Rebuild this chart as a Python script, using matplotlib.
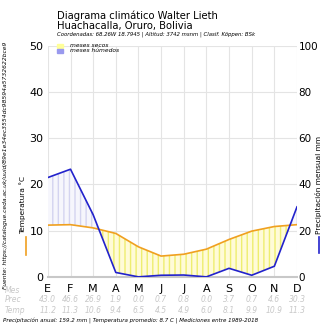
import matplotlib
matplotlib.use("Agg")
import matplotlib.pyplot as plt
import numpy as np
from matplotlib.lines import Line2D
from matplotlib.patches import Rectangle

# datos climáticos mensuales
meses = ["E", "F", "M", "A", "M", "J", "J", "A", "S", "O", "N", "D"]
prec = [43.0, 46.6, 26.9, 1.9, 0.0, 0.7, 0.8, 0.0, 3.7, 0.7, 4.6, 30.3]
temp = [11.2, 11.3, 10.6, 9.4, 6.5, 4.5, 4.9, 6.0, 8.1, 9.9, 10.9, 11.3]
temp_ticks = [0, 10, 20, 30, 40, 50]
prec_ticks = [0, 20, 40, 60, 80, 100]

titulo = "Diagrama climático Walter Lieth\nHuachacalla, Oruro, Bolivia"
subtitulo = "Coordenadas: 68.26W 18.7945 | Altitud: 3742 msnm | Clasif. Köppen: BSk"
fuente = "Fuente: https://catalogue.ceda.ac.uk/uuid/89e1e34ec3554dc98594a5732622bce9"
pie = "Precipitación anual: 159.2 mm | Temperatura promedio: 8.7 C | Mediciones entre 1989-2018"

gris = "#c8c8c8"
naranja = "#f0a020"
azul = "#2222cc"

fig = plt.figure(figsize=(3.3, 3.3), dpi=100)
ax = fig.add_axes([0.145, 0.161, 0.755, 0.700])
ax2 = ax.twinx()

x = np.arange(len(meses))
p_esc = np.array(prec) / 2.0   # precipitación en escala de temperatura
t = np.array(temp)

# relleno seco / húmedo con rayado vertical
ax.fill_between(x, t, p_esc, where=t >= p_esc, interpolate=True,
                facecolor="#fffbd8", edgecolor="#eeee70", hatch="|||", linewidth=0)
ax.fill_between(x, t, p_esc, where=p_esc >= t, interpolate=True,
                facecolor="#f6f6fc", edgecolor="#d4d4f0", hatch="|||", linewidth=0)

ax.plot(x, t, color=naranja, lw=1.2, zorder=4)
ax2.plot(x, prec, color=azul, lw=1.2, zorder=4)

ax.set_xlim(0, 11)
ax.set_ylim(0, 50)
ax2.set_ylim(0, 100)
ax.set_xticks(x)
ax.set_xticklabels(meses, fontsize=8)
ax.set_yticks(temp_ticks)
ax.set_yticklabels([str(v) for v in temp_ticks], fontsize=8)
ax2.set_yticks(prec_ticks)
ax2.set_yticklabels([str(v) for v in prec_ticks], fontsize=7.5)
ax.tick_params(axis="x", length=0, pad=5)
ax.tick_params(axis="y", length=0, pad=3)
ax2.tick_params(length=0, pad=1)
ax.grid(True, color="#e4e4e4", lw=0.8)
ax.set_axisbelow(True)
for a in (ax, ax2):
    for s in a.spines.values():
        s.set_visible(False)
ax.spines["bottom"].set_visible(True)
ax.spines["bottom"].set_color(gris)
ax.spines["bottom"].set_linewidth(1.5)

# etiquetas de ejes con su marca de serie
fig.text(0.068, 0.379, "Temperatura °C", rotation=90, fontsize=5.3, ha="center", va="center")
fig.add_artist(Line2D([0.078, 0.078], [0.227, 0.282], color=naranja, lw=1.2))
fig.text(0.966, 0.44, "Precipitación mensual mm", rotation=90, fontsize=5.3, ha="center", va="center")
fig.add_artist(Line2D([0.966, 0.966], [0.233, 0.282], color=azul, lw=1.2))

# títulos
fig.text(0.173, 0.968, titulo, fontsize=7.2, ha="left", va="top", linespacing=1.0)
fig.text(0.173, 0.897, subtitulo, fontsize=3.9, style="italic", ha="left", va="center")
fig.text(0.018, 0.5, fuente, rotation=90, fontsize=4.3, style="italic", ha="center", va="center")

# leyenda
fig.add_artist(Rectangle((0.172, 0.855), 0.02, 0.013, color="#ffff99"))
fig.add_artist(Rectangle((0.172, 0.838), 0.02, 0.013, color="#9999ee"))
fig.text(0.213, 0.862, "meses secos", fontsize=4.3, style="italic", va="center")
fig.text(0.213, 0.846, "meses húmedos", fontsize=4.3, style="italic", va="center")

# tabla inferior
fig.text(0.015, 0.121, "Mes", fontsize=5.5, style="italic", color=gris, va="center")
fig.text(0.015, 0.091, "Prec", fontsize=5.5, style="italic", color=gris, va="center")
fig.text(0.015, 0.058, "Temp", fontsize=5.5, style="italic", color=gris, va="center")
for i in range(len(meses)):
    ax.annotate(f"{prec[i]:.1f}", (i, 0), xycoords=("data", "axes fraction"),
                xytext=(0, -23), textcoords="offset pixels", ha="center", va="center",
                fontsize=5.5, style="italic", color=gris, annotation_clip=False)
    ax.annotate(f"{temp[i]:.1f}", (i, 0), xycoords=("data", "axes fraction"),
                xytext=(0, -34), textcoords="offset pixels", ha="center", va="center",
                fontsize=5.5, style="italic", color=gris, annotation_clip=False)

fig.text(0.01, 0.028, pie, fontsize=4.0, style="italic", va="center")

fig.savefig("out.png", dpi=100)
